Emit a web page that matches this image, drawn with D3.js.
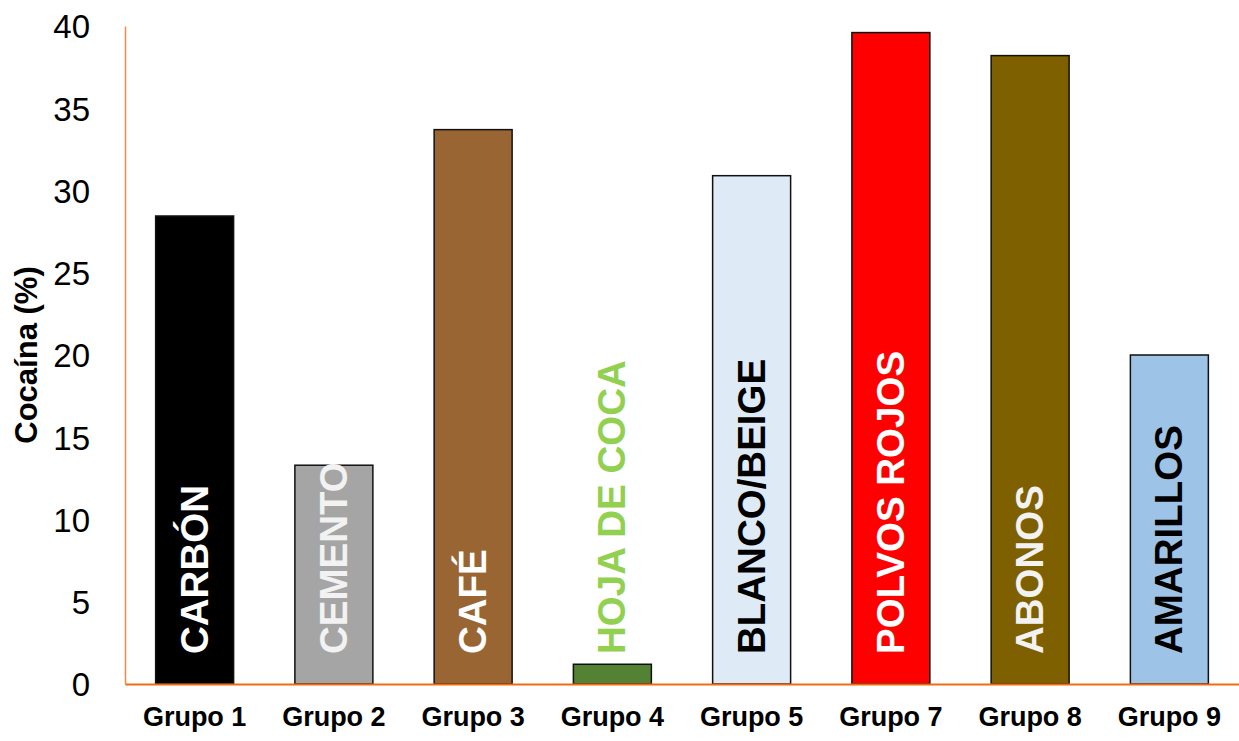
<!DOCTYPE html>
<html>
<head>
<meta charset="utf-8">
<script src="https://cdn.jsdelivr.net/npm/d3@7"></script>
<style>
  body { margin: 0; background: #fff; }
  svg { display: block; font-family: 'Liberation Sans', Arial, sans-serif; }
</style>
</head>
<body>
<div id="chart"></div>
<script>
// Chart data
const groups = ['Grupo 1', 'Grupo 2', 'Grupo 3', 'Grupo 4', 'Grupo 5', 'Grupo 7', 'Grupo 8', 'Grupo 9'];
const cocaine = [28.45, 13.3, 33.7, 1.2, 30.9, 39.6, 38.2, 20.0];
const barLabels = ['CARBÓN', 'CEMENTO', 'CAFÉ', 'HOJA DE COCA', 'BLANCO/BEIGE', 'POLVOS ROJOS', 'ABONOS', 'AMARILLOS'];
const yTicks = [0, 5, 10, 15, 20, 25, 30, 35, 40];

// Styles
const barColors = ['#000000', '#a5a5a5', '#996633', '#548235', '#deebf7', '#ff0000', '#7f6000', '#9dc3e6'];
const labelColors = ['#ffffff', '#f2f2f2', '#ffffff', '#92d050', '#000000', '#ffffff', '#f2f2f2', '#000000'];

const width = 1239;
const height = 741;
const margin = { top: 26, right: 0, bottom: 57, left: 125 };

const svg = d3.select('#chart').append('svg')
  .attr('width', width)
  .attr('height', height);

const x = d3.scaleBand()
  .domain(groups)
  .range([margin.left, width - margin.right])
  .paddingInner(0.44)
  .paddingOuter(0.22);

const y = d3.scaleLinear()
  .domain([0, 40])
  .range([height - margin.bottom, margin.top]);

const data = groups.map((g, i) => ({
  group: g,
  value: cocaine[i],
  label: barLabels[i],
  fill: barColors[i],
  textFill: labelColors[i],
}));

// Bars
svg.append('g')
  .selectAll('rect')
  .data(data)
  .enter()
  .append('rect')
  .attr('x', d => x(d.group))
  .attr('y', d => y(d.value))
  .attr('width', x.bandwidth())
  .attr('height', d => y(0) - y(d.value))
  .attr('fill', d => d.fill)
  .attr('stroke', '#111')
  .attr('stroke-width', 1.5);

// Rotated labels inside / above bars
svg.append('g')
  .selectAll('text')
  .data(data)
  .enter()
  .append('text')
  .attr('transform', d => `translate(${x(d.group) + x.bandwidth() / 2 + 13}, ${y(0) - 30}) rotate(-90)`)
  .attr('fill', d => d.textFill)
  .style('font-size', '38.5px')
  .style('font-weight', 'bold')
  .text(d => d.label);

// Y axis
const yAxis = d3.axisLeft(y)
  .tickValues(yTicks)
  .tickSize(0)
  .tickPadding(35);

const yG = svg.append('g')
  .attr('transform', `translate(${margin.left}, 0)`)
  .call(yAxis);
yG.select('.domain').attr('stroke', '#f08a4b').attr('stroke-width', 1.5);
yG.selectAll('text')
  .style('font-size', '33px')
  .style('font-family', "'Liberation Sans', Arial, sans-serif")
  .attr('fill', '#000')
  .attr('dy', '0.36em');

// X axis
const xAxis = d3.axisBottom(x)
  .tickSize(0)
  .tickPadding(23);

const xG = svg.append('g')
  .attr('transform', `translate(0, ${y(0)})`)
  .call(xAxis);
xG.select('.domain').attr('stroke', '#f36a10').attr('stroke-width', 2);
xG.selectAll('text')
  .style('font-size', '27px')
  .style('font-weight', 'bold')
  .style('font-family', "'Liberation Sans', Arial, sans-serif")
  .attr('fill', '#000');

// Y axis title
svg.append('text')
  .attr('transform', `translate(37, ${(y(0) + y(40)) / 2}) rotate(-90)`)
  .attr('text-anchor', 'middle')
  .style('font-size', '31px')
  .style('font-weight', 'bold')
  .text('Cocaína (%)');
</script>
</body>
</html>
